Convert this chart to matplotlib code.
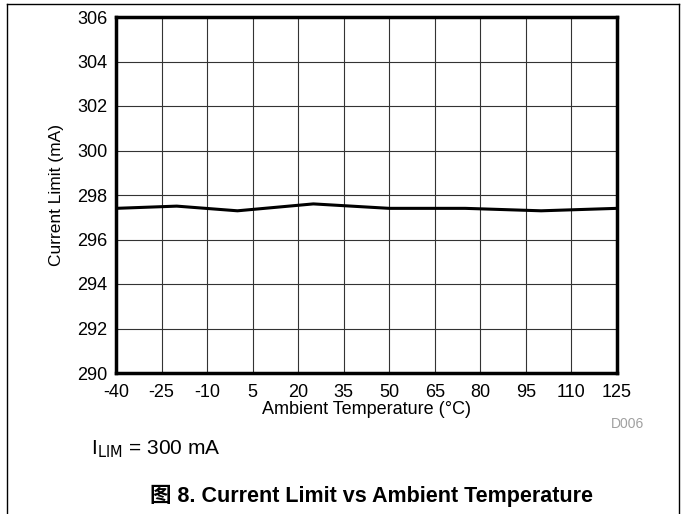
import matplotlib
matplotlib.use("Agg")
import matplotlib.pyplot as plt
from matplotlib.lines import Line2D

plt.rcParams['font.family'] = ['Liberation Sans', 'Noto Sans CJK SC', 'DejaVu Sans']

temps = [-40, -20, 0, 25, 50, 75, 100, 125]
current_limit = [297.40, 297.50, 297.29, 297.60, 297.40, 297.40, 297.29, 297.40]
x_ticks = [-40, -25, -10, 5, 20, 35, 50, 65, 80, 95, 110, 125]
y_ticks = [290, 292, 294, 296, 298, 300, 302, 304, 306]

W, H = 681, 514
fig = plt.figure(figsize=(W / 100, H / 100), dpi=100)
ax = fig.add_axes([116 / W, 1 - 373 / H, (617 - 116) / W, (373 - 17) / H])

ax.plot(temps, current_limit, color='black', lw=2.2, zorder=3)
ax.set_xlim(-40, 125)
ax.set_ylim(290, 306)
ax.set_xticks(x_ticks)
ax.set_xticklabels([str(t) for t in x_ticks])
ax.set_yticks(y_ticks)
ax.grid(True, color='#333333', lw=0.8)
ax.tick_params(axis='x', length=0, labelsize=13, pad=8)
ax.tick_params(axis='y', length=0, labelsize=13, pad=6)
for s in ax.spines.values():
    s.set_linewidth(2.5)
    s.set_color('black')
ax.set_xlabel('Ambient Temperature (°C)', fontsize=13, labelpad=0)
ax.set_ylabel('Current Limit (mA)', fontsize=12.5, labelpad=10)

fig.text(628 / W, 1 - 424 / H, 'D006', fontsize=10, color='#a0a0a0', ha='center', va='center')
fig.text(91 / W, 1 - 449 / H, r'I$_{\mathrm{LIM}}$ = 300 mA', fontsize=15, ha='left', va='center')
fig.text(372 / W, 1 - 496 / H, '图 8. Current Limit vs Ambient Temperature', fontsize=15.5,
         fontweight='bold', ha='center', va='center')

# page frame
fig.add_artist(Line2D([7 / W, 7 / W], [0, 1 - 4 / H], transform=fig.transFigure, color='black', lw=1))
fig.add_artist(Line2D([679 / W, 679 / W], [0, 1 - 4 / H], transform=fig.transFigure, color='black', lw=1))
fig.add_artist(Line2D([7 / W, 679 / W], [1 - 4 / H, 1 - 4 / H], transform=fig.transFigure, color='black', lw=1))

fig.savefig('out.png', dpi=100)
